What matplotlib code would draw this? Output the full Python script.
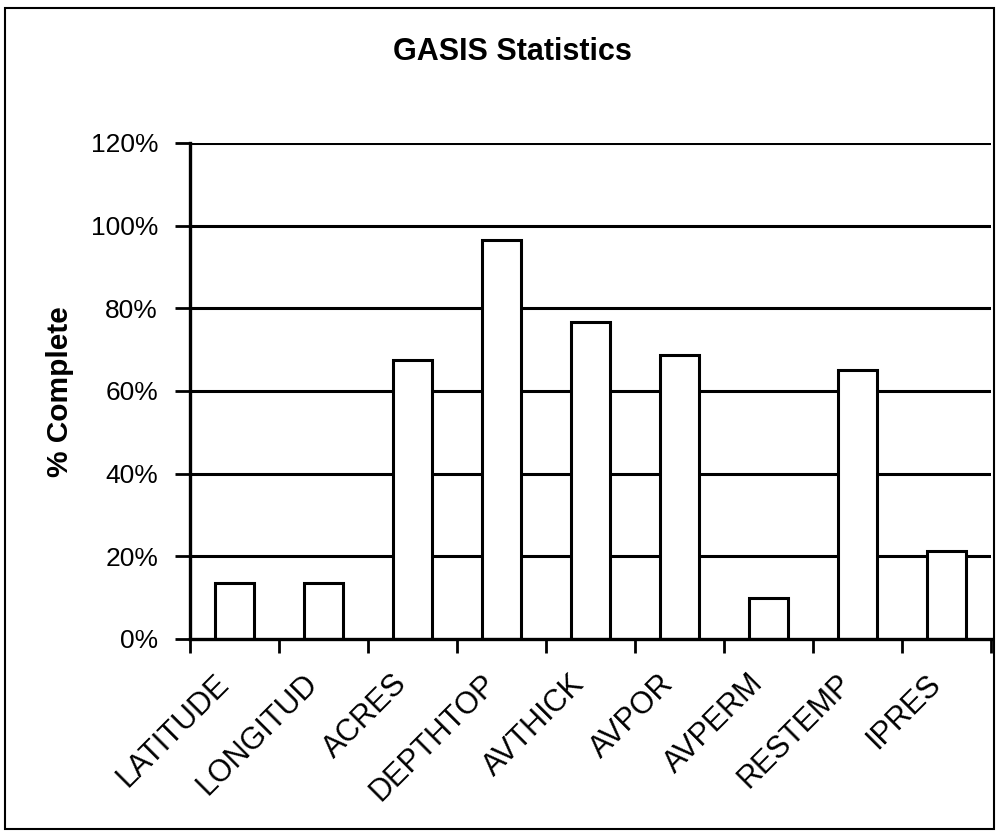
import matplotlib
matplotlib.use("Agg")
import matplotlib.pyplot as plt
from matplotlib.patches import Rectangle
from matplotlib.ticker import FixedLocator, PercentFormatter
from matplotlib.transforms import ScaledTranslation

categories = ["LATITUDE", "LONGITUD", "ACRES", "DEPTHTOP", "AVTHICK",
              "AVPOR", "AVPERM", "RESTEMP", "IPRES"]
values = [13.6, 13.6, 67.4, 96.6, 76.8, 68.8, 10.0, 65.0, 21.4]
yticks = [0, 20, 40, 60, 80, 100, 120]

plt.rcParams['font.family'] = ['Liberation Sans', 'DejaVu Sans']

W, H = 998, 832
fig = plt.figure(figsize=(W / 100, H / 100), dpi=100)
fig.patch.set_facecolor('white')

left, right, top, bottom = 190, 991, 143, 639
ax = fig.add_axes([left / W, 1 - bottom / H, (right - left) / W, (bottom - top) / H])

x = list(range(len(categories)))
ax.bar(x, values, width=0.43, color='white', edgecolor='black', linewidth=2.2, zorder=3)

ax.set_xlim(-0.5, len(categories) - 0.5)
ax.set_ylim(0, 120)
ax.set_yticks(yticks)
ax.yaxis.set_major_formatter(PercentFormatter(decimals=0))
for y in yticks[1:]:
    ax.axhline(y, color='black', linewidth=2.2, zorder=1)

# category boundary ticks
ax.xaxis.set_major_locator(FixedLocator([i - 0.5 for i in range(len(categories) + 1)]))
ax.xaxis.set_minor_locator(FixedLocator(x))
ax.set_xticklabels([''] * (len(categories) + 1))
ax.set_xticklabels(categories, minor=True, rotation=45, ha='right', va='center',
                   rotation_mode='anchor', fontsize=22)
ax.tick_params(axis='x', which='minor', length=0, pad=29)
ax.tick_params(axis='x', which='major', length=10, width=2, direction='out')
ax.tick_params(axis='y', length=11, width=2, direction='out', labelsize=19, pad=12)
shift = ScaledTranslation(-10 / 100, 0, fig.dpi_scale_trans)
for lab in ax.get_xticklabels(minor=True):
    lab.set_transform(lab.get_transform() + shift)

for s in ['top', 'right']:
    ax.spines[s].set_visible(False)
for s in ['left', 'bottom']:
    ax.spines[s].set_linewidth(2.4)
    ax.spines[s].set_zorder(4)

fig.text(60 / W, 1 - 392 / H, '% Complete', rotation=90, ha='center', va='center',
         fontsize=21.5, fontweight='bold')
fig.text(512 / W, 1 - 52 / H, 'GASIS Statistics', ha='center', va='center',
         fontsize=22, fontweight='bold')

# outer frame
fig.patches.append(Rectangle((5 / W, 1 - 829 / H), (994 - 5) / W, (829 - 8) / H,
                             transform=fig.transFigure, fill=False,
                             edgecolor='black', linewidth=1.5))

fig.savefig('out.png', dpi=100, facecolor='white')
